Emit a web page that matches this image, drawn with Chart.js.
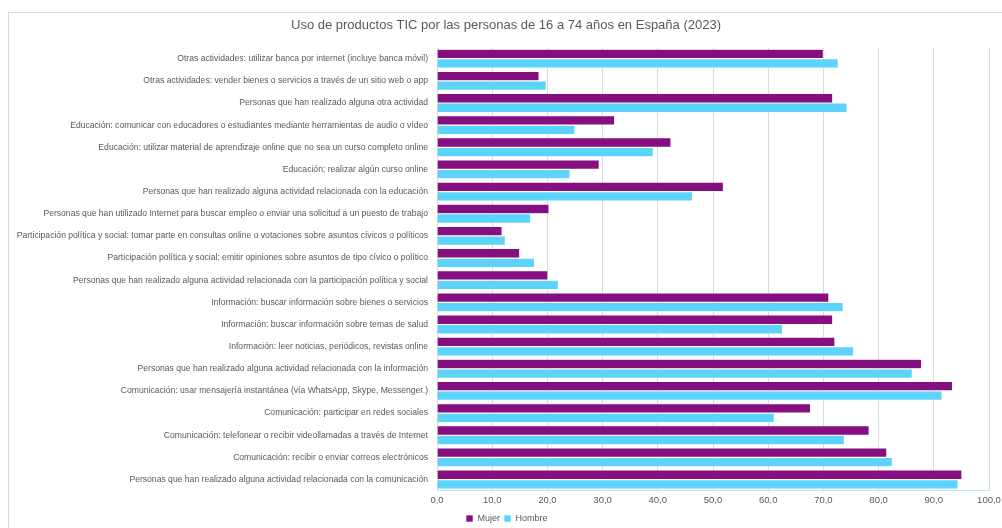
<!DOCTYPE html>
<html>
<head>
<meta charset="utf-8">
<script src="https://cdn.jsdelivr.net/npm/chart.js@4"></script>
<style>
  body { margin: 0; background: #fff; }
  #wrap { position: relative; width: 1002px; height: 528px; overflow: hidden; }
  #frame { position: absolute; left: 8px; top: 12px; width: 1000px; height: 530px; border: 1px solid #d9d9d9; }
  canvas { position: absolute; left: 0; top: 0; }
</style>
</head>
<body>
<div id="wrap">
  <div id="frame"></div>
  <canvas id="ticChart" width="1002" height="528"></canvas>
</div>
<script>
const chartTitle = 'Uso de productos TIC por las personas de 16 a 74 años en España (2023)';

const categories = [
  'Otras actividades: utilizar banca por internet (incluye banca móvil)',
  'Otras actividades: vender bienes o servicios a través de un sitio web o app',
  'Personas que han realizado alguna otra actividad',
  'Educación: comunicar con educadores o estudiantes mediante herramientas de audio o vídeo',
  'Educación: utilizar material de aprendizaje online que no sea un curso completo online',
  'Educación: realizar algún curso online',
  'Personas que han realizado alguna actividad relacionada con la educación',
  'Personas que han utilizado Internet para buscar empleo o enviar una solicitud a un puesto de trabajo',
  'Participación política y social: tomar parte en consultas online o votaciones sobre asuntos cívicos o políticos',
  'Participación política y social: emitir opiniones sobre asuntos de tipo cívico o político',
  'Personas que han realizado alguna actividad relacionada con la participación política y social',
  'Información: buscar información sobre bienes o servicios',
  'Información: buscar información sobre temas de salud',
  'Información: leer noticias, periódicos, revistas online',
  'Personas que han realizado alguna actividad relacionada con la información',
  'Comunicación: usar mensajería instantánea (vía WhatsApp, Skype, Messenger.)',
  'Comunicación: participar en redes sociales',
  'Comunicación: telefonear o recibir videollamadas a través de Internet',
  'Comunicación: recibir o enviar correos electrónicos',
  'Personas que han realizado alguna actividad relacionada con la comunicación'
];

const mujer  = [70.0, 18.5, 71.7, 32.2, 42.4, 29.4, 51.9, 20.3, 11.8, 15.0, 20.1, 71.0, 71.7, 72.1, 87.8, 93.4, 67.7, 78.3, 81.5, 95.1];
const hombre = [72.7, 19.8, 74.3, 25.0, 39.2, 24.1, 46.3, 17.0, 12.4, 17.7, 22.0, 73.6, 62.6, 75.5, 86.1, 91.5, 61.1, 73.8, 82.5, 94.4];

const seriesNames = ['Mujer', 'Hombre'];
const seriesColors = ['#850e80', '#5cd3fb'];

const textColor = '#595959';
const labelFont = "'Liberation Sans', Arial, sans-serif";

// move the legend under the plot instead of the canvas edge
const legendShift = {
  id: 'legendShift',
  afterLayout(chart) {
    chart.legend.left = 462;
  }
};

const ctx = document.getElementById('ticChart').getContext('2d');

new Chart(ctx, {
  type: 'bar',
  data: {
    labels: categories,
    datasets: [{
      label: seriesNames[0],
      data: mujer,
      backgroundColor: seriesColors[0],
      borderColor: '#ffffff',
      borderWidth: 0.6
    }, {
      label: seriesNames[1],
      data: hombre,
      backgroundColor: seriesColors[1],
      borderColor: '#ffffff',
      borderWidth: 0.6
    }]
  },
  options: {
    indexAxis: 'y',
    responsive: false,
    animation: false,
    layout: { padding: { left: 10, right: 0, top: 0, bottom: -5 } },
    datasets: { bar: { categoryPercentage: 0.86, barPercentage: 1.0 } },
    scales: {
      x: {
        min: 0,
        max: 100,
        ticks: {
          stepSize: 10,
          color: textColor,
          padding: 4,
          font: { family: labelFont, size: 9.5 },
          callback: v => v.toFixed(1).replace('.', ',')
        },
        grid: { color: '#d9d9d9', drawTicks: false },
        border: { color: '#b6e6fa', width: 1 },
        afterFit(scale) { scale.paddingRight = 13; }
      },
      y: {
        ticks: {
          color: textColor,
          padding: 1,
          font: { family: labelFont, size: 8.6 },
          autoSkip: false
        },
        grid: { display: false },
        border: { display: false },
        afterFit(scale) { scale.width = 427; }
      }
    },
    plugins: {
      title: {
        display: true,
        text: chartTitle,
        color: textColor,
        font: { family: labelFont, size: 13, weight: 'normal' },
        padding: { top: 18, bottom: 14 }
      },
      legend: {
        position: 'bottom',
        align: 'start',
        labels: {
          color: textColor,
          boxWidth: 7,
          boxHeight: 7,
          padding: 4,
          font: { family: labelFont, size: 9 }
        }
      },
      tooltip: { enabled: false }
    }
  },
  plugins: [legendShift]
});
</script>
</body>
</html>
